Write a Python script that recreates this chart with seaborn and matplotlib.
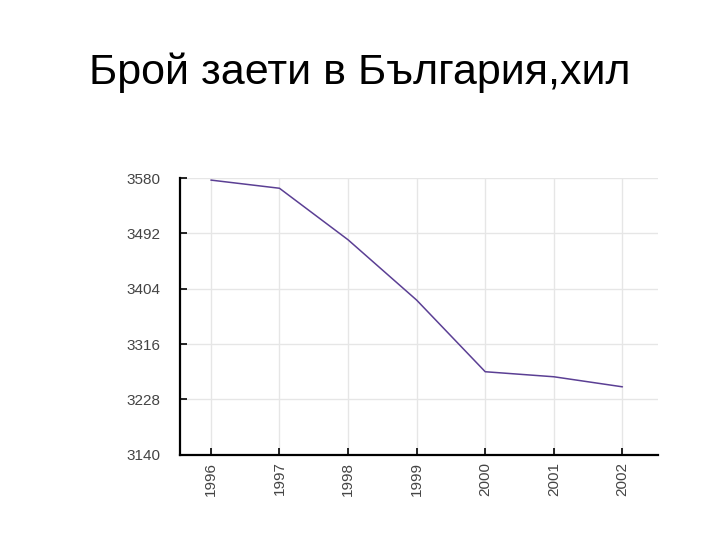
import numpy as np
import pandas as pd
import matplotlib
matplotlib.use('Agg')
import matplotlib.pyplot as plt
import seaborn as sns

# данни, отчетени от графиката
years = [1996, 1997, 1998, 1999, 2000, 2001, 2002]
employed = [3577, 3564, 3482, 3386, 3272, 3264, 3248]
y_ticks = [3140, 3228, 3316, 3404, 3492, 3580]

df = pd.DataFrame({'year': years, 'employed': employed})

sns.set_theme(style='whitegrid')
plt.rcParams['font.family'] = ['Liberation Sans', 'DejaVu Sans']

fig = plt.figure(figsize=(7.2, 5.4), dpi=100)
ax = fig.add_axes([0.25, 0.158, 0.664, 0.512])

sns.lineplot(data=df, x='year', y='employed', ax=ax, color='#5b3f94', linewidth=1.1)

ax.set_xlim(1995.55, 2002.52)
ax.set_ylim(3140, 3580)
ax.set_xticks(years)
ax.set_xticklabels([str(y) for y in years], rotation=90, fontsize=11, color='#444444')
ax.set_yticks(y_ticks)
ax.set_yticklabels([str(v) for v in y_ticks], fontsize=11, color='#444444')
ax.set_xlabel('')
ax.set_ylabel('')
ax.grid(True, color='#e6e6e6', linewidth=1)
for s in ['top', 'right']:
    ax.spines[s].set_visible(False)
for s in ['left', 'bottom']:
    ax.spines[s].set_color('black')
    ax.spines[s].set_linewidth(1.6)
ax.tick_params(axis='both', direction='in', length=5, width=1.2, color='black',
               bottom=True, left=True)
ax.tick_params(axis='y', pad=14)
ax.tick_params(axis='x', pad=5)

fig.text(0.5, 0.865, 'Брой заети в България,хил', ha='center', va='center',
         fontsize=31, color='black')

fig.savefig('out.png', dpi=100)
